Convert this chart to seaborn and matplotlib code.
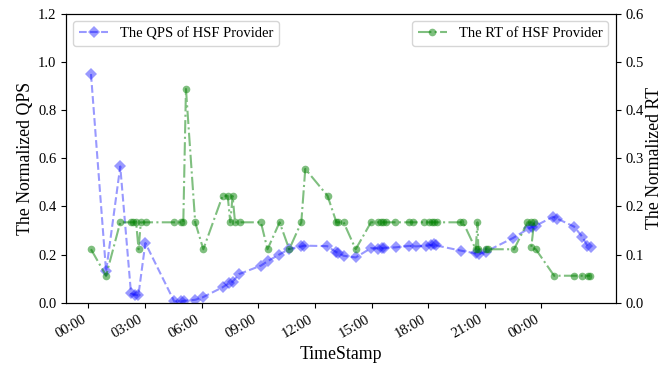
import matplotlib
matplotlib.use("Agg")
import matplotlib.pyplot as plt
import seaborn as sns
import pandas as pd

plt.rcParams['font.family'] = ['Liberation Serif', 'DejaVu Serif']
plt.rcParams['mathtext.fontset'] = 'stix'

# ---- data (x in hours since 00:00) ----
qps_hours = [0.14, 0.94, 1.69, 2.26, 2.45, 2.65, 3.02, 4.55, 4.91, 5.08, 5.66, 6.05,
             7.11, 7.43, 7.64, 7.99, 9.14, 9.53, 10.11, 10.64, 11.29, 11.43, 12.65,
             13.13, 13.25, 13.52, 14.16, 14.98, 15.32, 15.56, 15.67, 16.28, 16.99,
             17.35, 17.87, 18.16, 18.32, 18.41, 19.75, 20.52, 20.70, 21.05, 22.50,
             23.36, 23.49, 23.70, 24.62, 24.84, 25.73, 26.17, 26.43, 26.60]
qps_values = [0.95, 0.13, 0.566, 0.039, 0.033, 0.03, 0.248, 0.005, 0.005, 0.008, 0.012, 0.022,
              0.064, 0.08, 0.087, 0.119, 0.154, 0.174, 0.2, 0.223, 0.234, 0.237, 0.235,
              0.21, 0.206, 0.195, 0.188, 0.227, 0.225, 0.227, 0.228, 0.23, 0.236,
              0.234, 0.236, 0.24, 0.242, 0.238, 0.216, 0.205, 0.202, 0.212, 0.269,
              0.31, 0.313, 0.32, 0.357, 0.349, 0.316, 0.273, 0.236, 0.232]

rt_hours = [0.14, 0.94, 1.69, 2.26, 2.38, 2.53, 2.66, 2.78, 3.04, 4.55, 4.91, 5.03, 5.17,
            5.66, 6.09, 7.11, 7.38, 7.52, 7.64, 7.77, 8.03, 9.14, 9.49, 10.13, 10.64,
            11.28, 11.49, 12.67, 13.14, 13.25, 13.52, 14.16, 14.97, 15.32, 15.50, 15.62,
            15.76, 16.25, 16.99, 17.20, 17.79, 18.05, 18.19, 18.32, 18.49, 19.69, 19.85,
            20.52, 20.61, 20.66, 21.05, 21.19, 22.55, 23.26, 23.44, 23.61, 23.46, 23.70,
            24.67, 25.73, 26.17, 26.47, 26.58]
rt_values = [0.111, 0.056, 0.167, 0.167, 0.167, 0.167, 0.111, 0.167, 0.167, 0.167, 0.167, 0.167, 0.444,
             0.167, 0.111, 0.222, 0.222, 0.167, 0.222, 0.167, 0.167, 0.167, 0.111, 0.167, 0.111,
             0.167, 0.278, 0.222, 0.167, 0.167, 0.167, 0.111, 0.167, 0.167, 0.167, 0.167,
             0.167, 0.167, 0.167, 0.167, 0.167, 0.167, 0.167, 0.167, 0.167, 0.167, 0.167,
             0.111, 0.167, 0.111, 0.111, 0.111, 0.111, 0.167, 0.167, 0.167, 0.115, 0.111,
             0.056, 0.056, 0.056, 0.056, 0.056]

tick_hours = [0, 3, 6, 9, 12, 15, 18, 21, 24]
tick_labels = ["00:00", "03:00", "06:00", "09:00", "12:00", "15:00", "18:00", "21:00", "00:00"]

qps_df = pd.DataFrame({"hour": qps_hours, "qps": qps_values})
rt_df = pd.DataFrame({"hour": rt_hours, "rt": rt_values})

fig, ax1 = plt.subplots(figsize=(6.64, 3.66), dpi=100)
fig.subplots_adjust(left=0.0994, right=0.927, top=0.962, bottom=0.173)
ax2 = ax1.twinx()

sns.lineplot(data=qps_df, x="hour", y="qps", ax=ax1, sort=False, estimator=None,
             color="blue", alpha=0.4, linestyle="--", marker="D", markersize=6,
             markeredgewidth=0, label="The QPS of HSF Provider")
sns.lineplot(data=rt_df, x="hour", y="rt", ax=ax2, sort=False, estimator=None,
             color="green", alpha=0.5, linestyle="-.", marker="o", markersize=5.5,
             markeredgewidth=0, label="The RT of HSF Provider")

ax1.set_ylim(0, 1.2)
ax2.set_ylim(0, 0.6)
ax1.set_yticks([0.0, 0.2, 0.4, 0.6, 0.8, 1.0, 1.2])
ax2.set_yticks([0.0, 0.1, 0.2, 0.3, 0.4, 0.5, 0.6])
ax1.set_xticks(tick_hours)
ax1.set_xticklabels(tick_labels, rotation=30, ha="right")

ax1.tick_params(labelsize=10.5)
ax2.tick_params(labelsize=10.5)
ax1.set_xlabel("TimeStamp", fontsize=12.8)
ax1.set_ylabel("The Normalized QPS", fontsize=12.8, labelpad=3)
ax2.set_ylabel("The Normalized RT", fontsize=12.8, labelpad=2)

ax1.legend(loc="upper left", fontsize=10.5)
ax2.legend(loc="upper right", fontsize=10.5)

fig.savefig("out.png", dpi=100)
